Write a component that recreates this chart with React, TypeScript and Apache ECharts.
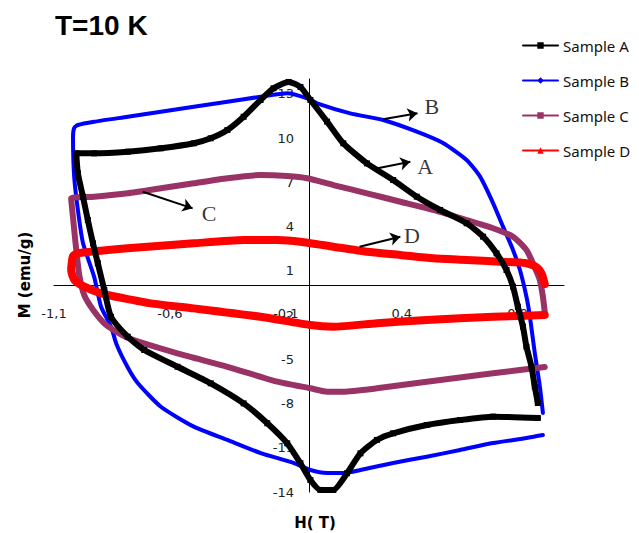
import React, { useEffect, useRef } from 'react';
import * as echarts from 'echarts';

// H (T), M (emu/g)
const sampleA: [number, number][] = [
  [0.987, -8.98], [0.794, -8.89], [0.652, -9.12], [0.508, -9.46], [0.363, -10.02], [0.293, -10.47],
  [0.222, -11.38], [0.164, -12.73], [0.105, -13.86], [0.049, -13.86], [0.006, -13.19], [-0.037, -12.05],
  [-0.094, -10.7], [-0.18, -9.34], [-0.282, -7.99], [-0.424, -6.63], [-0.567, -5.51], [-0.711, -4.37],
  [-0.782, -3.47], [-0.854, -2.12], [-0.883, -0.31], [-0.911, 1.51], [-0.932, 2.86], [-0.954, 4.44],
  [-0.975, 6.02], [-0.997, 7.61], [-1.004, 8.96], [-0.927, 8.96], [-0.782, 9.07], [-0.639, 9.3],
  [-0.497, 9.64], [-0.424, 9.98], [-0.352, 10.54], [-0.282, 11.44], [-0.209, 12.58], [-0.153, 13.37],
  [-0.088, 13.8], [-0.037, 13.46], [0.006, 12.58], [0.078, 11.11], [0.148, 9.64], [0.25, 8.28],
  [0.363, 7.15], [0.465, 6.02], [0.566, 5.12], [0.68, 4.22], [0.751, 3.31], [0.809, 2.18],
  [0.852, 1.05], [0.88, -0.08], [0.901, -1.44], [0.923, -2.79], [0.938, -4.15], [0.96, -5.51],
  [0.974, -6.86], [0.987, -7.97],
];

const sampleB: [number, number][] = [
  [1.009, -10.14], [0.939, -10.34], [0.794, -10.68], [0.652, -11.15], [0.508, -11.61], [0.363, -12.03],
  [0.222, -12.51], [0.148, -12.71], [0.078, -12.71], [0.006, -12.51], [-0.067, -12.03], [-0.208, -11.36],
  [-0.352, -10.47], [-0.497, -9.57], [-0.639, -8.22], [-0.739, -6.61], [-0.781, -5.58], [-0.83, -4.0],
  [-0.854, -2.79], [-0.897, -1.44], [-0.927, 0.6], [-0.975, 2.88], [-0.997, 5.12], [-1.013, 7.38],
  [-1.018, 10.09], [-1.013, 10.68], [-0.997, 10.88], [-0.927, 11.1], [-0.782, 11.44], [-0.639, 11.78],
  [-0.497, 12.12], [-0.352, 12.46], [-0.209, 12.8], [-0.094, 13.03], [-0.008, 12.69], [0.035, 12.35],
  [0.178, 11.67], [0.32, 11.22], [0.465, 10.43], [0.578, 9.66], [0.68, 8.51], [0.738, 7.38],
  [0.794, 5.59], [0.837, 3.99], [0.88, 2.41], [0.91, 1.05], [0.938, -0.76], [0.953, -2.12],
  [0.974, -4.58], [0.996, -6.86], [1.009, -8.64],
];

const sampleC: [number, number][] = [
  [1.017, -5.53], [0.794, -5.95], [0.508, -6.52], [0.293, -6.97], [0.148, -7.2], [0.078, -7.2],
  [0.006, -6.97], [-0.137, -6.52], [-0.352, -5.51], [-0.567, -4.6], [-0.781, -3.56], [-0.875, -2.68],
  [-0.931, -1.66], [-0.97, -0.64], [-0.991, 0.71], [-1.004, 2.41], [-1.017, 4.44], [-1.026, 5.91],
  [-0.927, 6.02], [-0.782, 6.25], [-0.639, 6.59], [-0.497, 6.93], [-0.352, 7.27], [-0.209, 7.49],
  [-0.094, 7.42], [-0.008, 7.27], [0.105, 6.81], [0.25, 6.25], [0.394, 5.68], [0.535, 5.12],
  [0.68, 4.44], [0.794, 3.88], [0.88, 3.31], [0.938, 2.41], [0.966, 1.51], [0.996, 0.37],
  [1.009, -0.76], [1.017, -1.8],
];

const sampleD: [number, number][] = [
  [1.017, -2.0], [0.794, -2.12], [0.508, -2.34], [0.293, -2.56], [0.105, -2.79], [0.006, -2.68],
  [-0.209, -2.12], [-0.497, -1.55], [-0.682, -1.21], [-0.797, -0.87], [-0.897, -0.53], [-0.969, -0.08],
  [-1.012, 0.37], [-1.026, 1.05], [-1.018, 2.0], [-0.997, 2.18], [-0.782, 2.52], [-0.497, 2.86],
  [-0.282, 3.08], [-0.137, 3.08], [-0.037, 2.97], [0.105, 2.63], [0.25, 2.29], [0.394, 2.07],
  [0.535, 1.84], [0.68, 1.73], [0.824, 1.61], [0.938, 1.51], [0.981, 1.25], [1.003, 0.83],
  [1.017, 0.1],
];

const xTickLabels = [-1.1, -0.6, -0.1, 0.4, 0.9];
const yTickLabels = [-14, -11, -8, -5, -2, 1, 4, 7, 10, 13];

const annotationLetters = [
  { name: 'B', value: [0.53, 12.12] },
  { name: 'A', value: [0.501, 8.05] },
  { name: 'C', value: [-0.431, 4.89] },
  { name: 'D', value: [0.444, 3.42] },
];
const annotationArrows: [[number, number], [number, number]][] = [
  [[0.319, 11.27], [0.468, 11.68]],
  [[0.296, 7.95], [0.437, 8.39]],
  [[-0.717, 6.36], [-0.502, 5.23]],
  [[0.218, 2.63], [0.394, 3.31]],
];

const legendNames = ['Sample A', 'Sample B', 'Sample C', 'Sample D'];

const near = (list: number[], v: number) => list.some((t) => Math.abs(t - v) < 1e-6);

const GRID = { left: 54, right: 75, top: 79, bottom: 41 };
const W = 639;
const H = 533;

export default function App() {
  const ref = useRef<HTMLDivElement>(null);
  useEffect(() => {
    if (!ref.current) return;
    const chart = echarts.init(ref.current, undefined, { renderer: 'svg' });
    const xMin = -1.1, xMax = 1.1, yMin = -14, yMax = 14;
    const plotW = W - GRID.left - GRID.right;
    const plotH = H - GRID.top - GRID.bottom;
    // shift axes so they cross at the origin (labels travel with the lines)
    const xAxisOffset = -((0 - yMin) / (yMax - yMin)) * plotH;
    const yAxisOffset = -((0 - xMin) / (xMax - xMin)) * plotW;
    const lineSeries = (name: string, data: [number, number][], color: string, width: number, symbol: string, symbolSize: number, showSymbol: boolean) => ({
      type: 'line',
      name,
      data,
      showSymbol,
      symbol,
      symbolSize,
      smooth: 0.2,
      lineStyle: { color, width, join: 'round', cap: 'round' },
      itemStyle: { color, borderWidth: 0 },
      emphasis: { disabled: true },
      silent: true,
    });
    chart.setOption({
      animation: false,
      title: {
        text: 'T=10 K',
        left: 50,
        top: 6,
        textStyle: { fontFamily: 'Liberation Sans', fontWeight: 'bold', fontSize: 28, color: '#000' },
      },
      legend: {
        orient: 'vertical',
        left: 517,
        top: 33,
        itemWidth: 35,
        itemHeight: 8,
        itemGap: 20,
        data: legendNames,
        lineStyle: { width: 2 },
        textStyle: { fontFamily: 'Noto Sans', fontSize: 15, color: '#111' },
      },
      grid: { ...GRID, containLabel: false },
      xAxis: {
        type: 'value',
        min: xMin,
        max: xMax,
        interval: 0.1,
        position: 'bottom',
        offset: xAxisOffset,
        axisLine: { onZero: false, lineStyle: { color: '#000', width: 1 } },
        axisTick: { show: false },
        splitLine: { show: false },
        axisLabel: {
          margin: 21,
          fontFamily: 'DejaVu Sans',
          fontSize: 13,
          color: '#222',
          showMaxLabel: false,
          formatter: (v: number) => (near(xTickLabels, v) ? String(Math.round(v * 10) / 10).replace('.', ',') : ''),
        },
      },
      yAxis: {
        type: 'value',
        min: yMin,
        max: yMax,
        interval: 1,
        position: 'left',
        offset: yAxisOffset,
        axisLine: { onZero: false, lineStyle: { color: '#000', width: 1 } },
        axisTick: { show: false },
        splitLine: { show: false },
        axisLabel: {
          margin: 15,
          fontFamily: 'DejaVu Sans',
          fontSize: 13,
          color: '#222',
          formatter: (v: number) => (near(yTickLabels, v) ? String(v) : ''),
        },
      },
      graphic: [
        {
          type: 'text',
          x: 25,
          y: 275,
          rotation: Math.PI / 2,
          style: { text: 'M (emu/g)', align: 'center', verticalAlign: 'middle', font: 'bold 15px "DejaVu Sans"', fill: '#000' },
        },
        {
          type: 'text',
          x: 315,
          y: 523,
          style: { text: 'H( T)', align: 'center', verticalAlign: 'middle', font: 'bold 15px "DejaVu Sans"', fill: '#000' },
        },
      ],
      series: [
        lineSeries('Sample B', sampleB, '#0000ff', 4, 'diamond', 5, false),
        lineSeries('Sample C', sampleC, '#993366', 6, 'rect', 7, false),
        lineSeries('Sample D', sampleD, '#ff0000', 8, 'triangle', 7, false),
        lineSeries('Sample A', sampleA, '#000000', 6, 'rect', 6, true),
        {
          type: 'scatter',
          name: 'annotations',
          data: annotationLetters,
          symbolSize: 1,
          itemStyle: { color: 'rgba(0,0,0,0)' },
          silent: true,
          z: 5,
          label: {
            show: true,
            position: 'inside',
            formatter: '{b}',
            fontFamily: 'Liberation Serif',
            fontSize: 22,
            color: '#000',
          },
          markLine: {
            silent: true,
            symbol: ['none', 'arrow'],
            symbolSize: 10,
            label: { show: false },
            lineStyle: { color: '#000', width: 2, type: 'solid' },
            data: annotationArrows.map(([a, b]) => [{ coord: a }, { coord: b }]),
          },
        },
      ],
    });
    return () => chart.dispose();
  }, []);
  return <div ref={ref} style={{ position: 'fixed', left: 0, top: 0, width: W, height: H, background: '#fff' }} />;
}
